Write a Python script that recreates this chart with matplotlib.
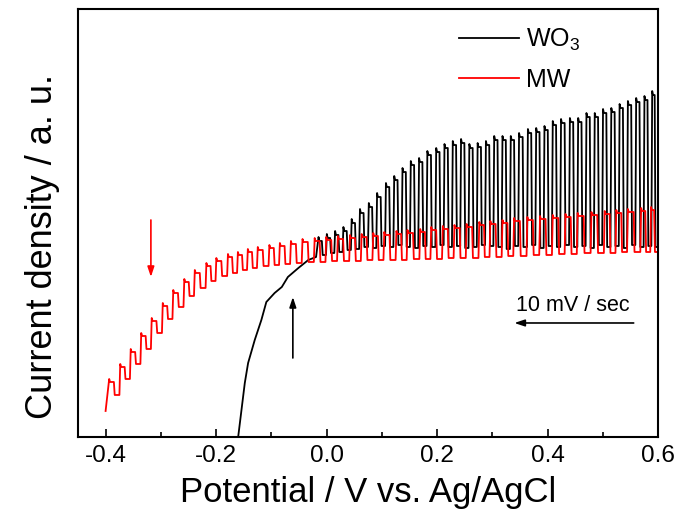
import numpy as np
import matplotlib.pyplot as plt

plt.rcParams['font.family'] = ['Liberation Sans', 'DejaVu Sans']
plt.rcParams['mathtext.fontset'] = 'custom'
plt.rcParams['mathtext.rm'] = 'Liberation Sans'
plt.rcParams['mathtext.default'] = 'regular'

# WO3: dark rise before the chopping gets visible (potential V, current a.u.)
wo3_dark_v = [-0.166, -0.160, -0.154, -0.148, -0.142, -0.130, -0.118, -0.109,
              -0.094, -0.081, -0.070, -0.051, -0.033, -0.019]
wo3_dark_i = [-0.05, 0.00, 0.27, 0.54, 0.74, 0.97, 1.17, 1.35,
              1.44, 1.50, 1.60, 1.69, 1.77, 1.80]

# WO3: chopped light, one entry per light-on edge
wo3_on_v = [-0.016, -0.001, 0.014, 0.029, 0.044, 0.059, 0.075, 0.090, 0.106,
            0.121, 0.136, 0.151, 0.166, 0.181, 0.197, 0.212, 0.227, 0.242,
            0.257, 0.272, 0.287, 0.302, 0.317, 0.332, 0.347, 0.363, 0.378,
            0.393, 0.408, 0.423, 0.439, 0.454, 0.469, 0.484, 0.499, 0.514,
            0.529, 0.544, 0.559, 0.574, 0.588]
wo3_light = [1.96, 1.99, 2.02, 2.06, 2.14, 2.24, 2.30, 2.40, 2.50, 2.57, 2.65,
             2.72, 2.75, 2.82, 2.85, 2.89, 2.92, 2.94, 2.89, 2.90, 2.92, 2.97,
             2.97, 2.97, 3.00, 3.04, 3.05, 3.07, 3.12, 3.14, 3.15, 3.15, 3.20,
             3.20, 3.24, 3.25, 3.29, 3.32, 3.35, 3.37, 3.42]
wo3_dark = [1.82, 1.84, 1.85, 1.87, 1.88, 1.90, 1.89, 1.91, 1.90, 1.92, 1.90,
            1.89, 1.91, 1.90, 1.92, 1.90, 1.91, 1.89, 1.90, 1.92, 1.91, 1.90,
            1.88, 1.91, 1.90, 1.92, 1.89, 1.91, 1.90, 1.92, 1.90, 1.91, 1.89,
            1.92, 1.90, 1.91, 1.89, 1.92, 1.90, 1.91, 1.90]

# MW: chopped over the whole scan
mw_start = (-0.400, 0.26)
mw_on_v = [-0.395, -0.375, -0.356, -0.337, -0.318, -0.298, -0.279, -0.259,
           -0.240, -0.219, -0.201, -0.180, -0.162, -0.144, -0.126, -0.105,
           -0.086, -0.066, -0.045, -0.023, -0.002, 0.019, 0.041, 0.062, 0.083,
           0.103, 0.125, 0.145, 0.168, 0.188, 0.209, 0.230, 0.252, 0.275,
           0.295, 0.317, 0.338, 0.362, 0.385, 0.408, 0.431, 0.453, 0.478,
           0.502, 0.523, 0.544, 0.568, 0.586]
mw_light = [0.55, 0.70, 0.85, 1.01, 1.16, 1.31, 1.44, 1.55, 1.64, 1.71, 1.76,
            1.80, 1.82, 1.85, 1.87, 1.89, 1.91, 1.93, 1.95, 1.96, 1.97, 1.98,
            1.99, 2.00, 2.01, 2.02, 2.03, 2.04, 2.05, 2.07, 2.08, 2.09, 2.10,
            2.12, 2.13, 2.14, 2.16, 2.17, 2.18, 2.19, 2.20, 2.21, 2.22, 2.23,
            2.24, 2.25, 2.26, 2.27]
mw_dark = [0.42, 0.58, 0.73, 0.88, 1.04, 1.18, 1.30, 1.41, 1.49, 1.56, 1.61,
           1.64, 1.67, 1.69, 1.71, 1.72, 1.73, 1.74, 1.75, 1.75, 1.76, 1.76,
           1.76, 1.77, 1.77, 1.77, 1.77, 1.78, 1.78, 1.78, 1.79, 1.79, 1.79,
           1.80, 1.80, 1.81, 1.81, 1.82, 1.82, 1.83, 1.83, 1.84, 1.84, 1.84,
           1.85, 1.85, 1.85, 1.85]
scan_end = 0.600


def chopped(on_v, light, dark, end_v, spike=0.04, t=0.0015):
    xs, ys = [], []
    for i, v0 in enumerate(on_v):
        v1 = on_v[i + 1] if i + 1 < len(on_v) else end_v
        half = v0 + 0.5 * (v1 - v0)
        xs += [v0 + t, v0 + 2 * t, half, half + t, v1]
        ys += [light[i] + spike, light[i], light[i], dark[i], dark[i]]
    return xs, ys


fig, ax = plt.subplots(figsize=(6.81, 5.15), dpi=100)
fig.subplots_adjust(left=0.1145, right=0.9662, bottom=0.1515, top=0.9825)

cx, cy = chopped(wo3_on_v, wo3_light, wo3_dark, scan_end)
ax.plot(wo3_dark_v + cx, wo3_dark_i + cy, color='black', lw=1.3, label='WO$_3$')

cx, cy = chopped(mw_on_v, mw_light, mw_dark, scan_end, spike=0.03)
ax.plot([mw_start[0]] + cx, [mw_start[1]] + cy, color='red', lw=1.3, label='MW')

# onset arrows
arrow = dict(arrowstyle='-|>,head_length=0.6,head_width=0.2', lw=1.2,
             shrinkA=0, shrinkB=0)
ax.annotate('', xy=(-0.318, 1.60), xytext=(-0.318, 2.17),
            arrowprops=dict(arrow, color='red'))
ax.annotate('', xy=(-0.061, 1.40), xytext=(-0.061, 0.79),
            arrowprops=dict(arrow, color='black'))
ax.annotate('', xy=(0.340, 1.14), xytext=(0.556, 1.14),
            arrowprops=dict(arrow, color='black'))
ax.text(0.445, 1.21, '10 mV / sec', ha='center', va='bottom', fontsize=15.5)

ax.set_xlim(-0.45, 0.6)
ax.set_ylim(0, 4.28)
ax.set_xticks([-0.4, -0.2, 0.0, 0.2, 0.4, 0.6])
ax.set_xticklabels(['-0.4', '-0.2', '0.0', '0.2', '0.4', '0.6'])
ax.set_xticks(np.arange(-0.3, 0.6, 0.2), minor=True)
ax.set_yticks([])
ax.tick_params(axis='x', which='major', direction='in', length=6, width=1.2,
               labelsize=17.5, pad=6)
ax.tick_params(axis='x', which='minor', direction='in', length=3.5, width=1.2)
for s in ax.spines.values():
    s.set_linewidth(1.5)

ax.set_xlabel('Potential / V vs. Ag/AgCl', fontsize=25, labelpad=6)
ax.set_ylabel('Current density / a. u.', fontsize=26)
ax.yaxis.set_label_coords(-0.031, 0.444)

ax.legend(loc='upper right', bbox_to_anchor=(0.905, 1.012), frameon=False,
          fontsize=18, handlelength=2.4, handletextpad=0.3, labelspacing=0.6)

fig.savefig('out.png', dpi=100)
